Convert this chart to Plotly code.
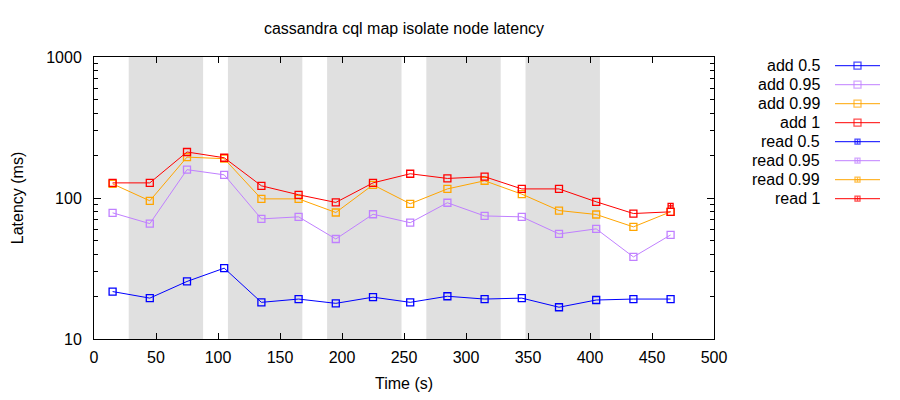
import plotly.graph_objects as go

# data
time_s = [15, 45, 75, 105, 135, 165, 195, 225, 255, 285, 315, 345, 375, 405, 435, 465]
add_05 = [21.7, 19.5, 25.6, 31.8, 18.2, 19.2, 17.9, 19.8, 18.2, 20.1, 19.2, 19.5, 16.8, 18.9, 19.2, 19.2]
add_095 = [78.5, 65.8, 158.8, 146, 71.1, 73.5, 51.2, 76.7, 66.8, 92.5, 74.6, 73.5, 55.6, 60.4, 38.2, 54.7]
add_099 = [126, 95.5, 195, 190, 98.6, 98.6, 78.9, 124, 91, 116, 132.5, 106.5, 81.5, 76.4, 62.4, 79.8]
add_1 = [128, 128, 212, 193, 122, 105.4, 93, 128, 148.6, 137.6, 141.6, 116, 116, 94, 77.6, 79.8]
read_time = [465]
read_05 = [None]
read_095 = [None]
read_099 = [None]
read_1 = [87.9]

# isolation windows (s)
shade_start = [28, 108, 188, 268, 348]
shade_end = [88, 168, 248, 328, 408]

series = [
    ("add 0.5", time_s, add_05, "#0000ff", "square-open", 7),
    ("add 0.95", time_s, add_095, "#c080ff", "square-open", 7),
    ("add 0.99", time_s, add_099, "#ffa500", "square-open", 7),
    ("add 1", time_s, add_1, "#ff0000", "square-open", 7),
    ("read 0.5", read_time, read_05, "#0000ff", "square-cross-open", 5),
    ("read 0.95", read_time, read_095, "#c080ff", "square-cross-open", 5),
    ("read 0.99", read_time, read_099, "#ffa500", "square-cross-open", 5),
    ("read 1", read_time, read_1, "#ff0000", "square-cross-open", 5),
]

FONT = "Liberation Sans"
FS = 16
OFF = 8  # page body margin
W, H = 900 - OFF, 400 - OFF
ml, mr, mt = 94 - OFF, 10, 57 - OFF
mb = H - (339 - OFF)
pw = W - ml - mr
plot_right = 714 - OFF  # px where x=500 sits

fig = go.Figure()

for s0, s1 in zip(shade_start, shade_end):
    fig.add_shape(type="rect", x0=s0, x1=s1, y0=0, y1=1, xref="x", yref="y domain",
                  fillcolor="#e0e0e0", line=dict(width=0), layer="below")

for name, xs, ys, col, sym, sz in series:
    fig.add_trace(go.Scatter(
        x=xs, y=ys, name=name, mode="lines+markers",
        line=dict(color=col, width=1),
        marker=dict(symbol=sym, size=sz, color=col, line=dict(color=col, width=1.3)),
        showlegend=False, xaxis="x", yaxis="y"))

# hand-made gnuplot style key: text right, sample line on the right
for i, (name, xs, ys, col, sym, sz) in enumerate(series):
    fig.add_trace(go.Scatter(
        x=[0, 0.5, 1], y=[i, i, i], mode="lines+markers",
        line=dict(color=col, width=1),
        marker=dict(symbol=sym, size=[0, sz, 0], color=col, line=dict(color=col, width=1.3)),
        showlegend=False, hoverinfo="skip", xaxis="x2", yaxis="y2"))
    fig.add_annotation(text=name, x=(822 - OFF - ml) / pw, xref="paper", y=i, yref="y2",
                       xanchor="right", yanchor="middle", showarrow=False,
                       font=dict(family=FONT, size=FS, color="#000000"))

key_top = 65.7 - OFF
fig.update_layout(
    width=W, height=H,
    margin=dict(l=ml, r=mr, t=mt, b=mb, autoexpand=False),
    plot_bgcolor="white", paper_bgcolor="white",
    font=dict(family=FONT, size=FS, color="#000000"),
    title=dict(text="cassandra cql map isolate node latency", x=(404 - OFF) / W, xanchor="center",
               y=1 - (28 - OFF) / H, yanchor="middle", font=dict(size=FS), automargin=False),
    xaxis=dict(domain=[0, (plot_right - ml) / pw], range=[0, 500], dtick=50, automargin=False,
               showline=True, linecolor="black", linewidth=1, mirror="allticks",
               ticks="inside", ticklen=6, tickcolor="black", showgrid=False, zeroline=False,
               tickfont=dict(size=FS),
               title=dict(text="Time (s)", standoff=12, font=dict(size=FS)), ticklabelstandoff=4),
    yaxis=dict(type="log", range=[1, 3], dtick=1, tickformat="d", automargin=False,
               showline=True, linecolor="black", linewidth=1, mirror="allticks",
               ticks="inside", ticklen=7, tickcolor="black", showgrid=False, zeroline=False,
               tickfont=dict(size=FS),
               minor=dict(ticks="inside", ticklen=4, dtick="D1", tickcolor="black", showgrid=False),
               title=dict(text="Latency (ms)", standoff=18, font=dict(size=FS)), ticklabelstandoff=8),
    xaxis2=dict(domain=[(835 - OFF - ml) / pw, (880 - OFF - ml) / pw], range=[0, 1], visible=False, anchor="y2"),
    yaxis2=dict(domain=[0, 1], range=[(H - mb - key_top) / 19, -(key_top - mt) / 19], visible=False, anchor="x2"),
)

fig.write_html("out.html")
